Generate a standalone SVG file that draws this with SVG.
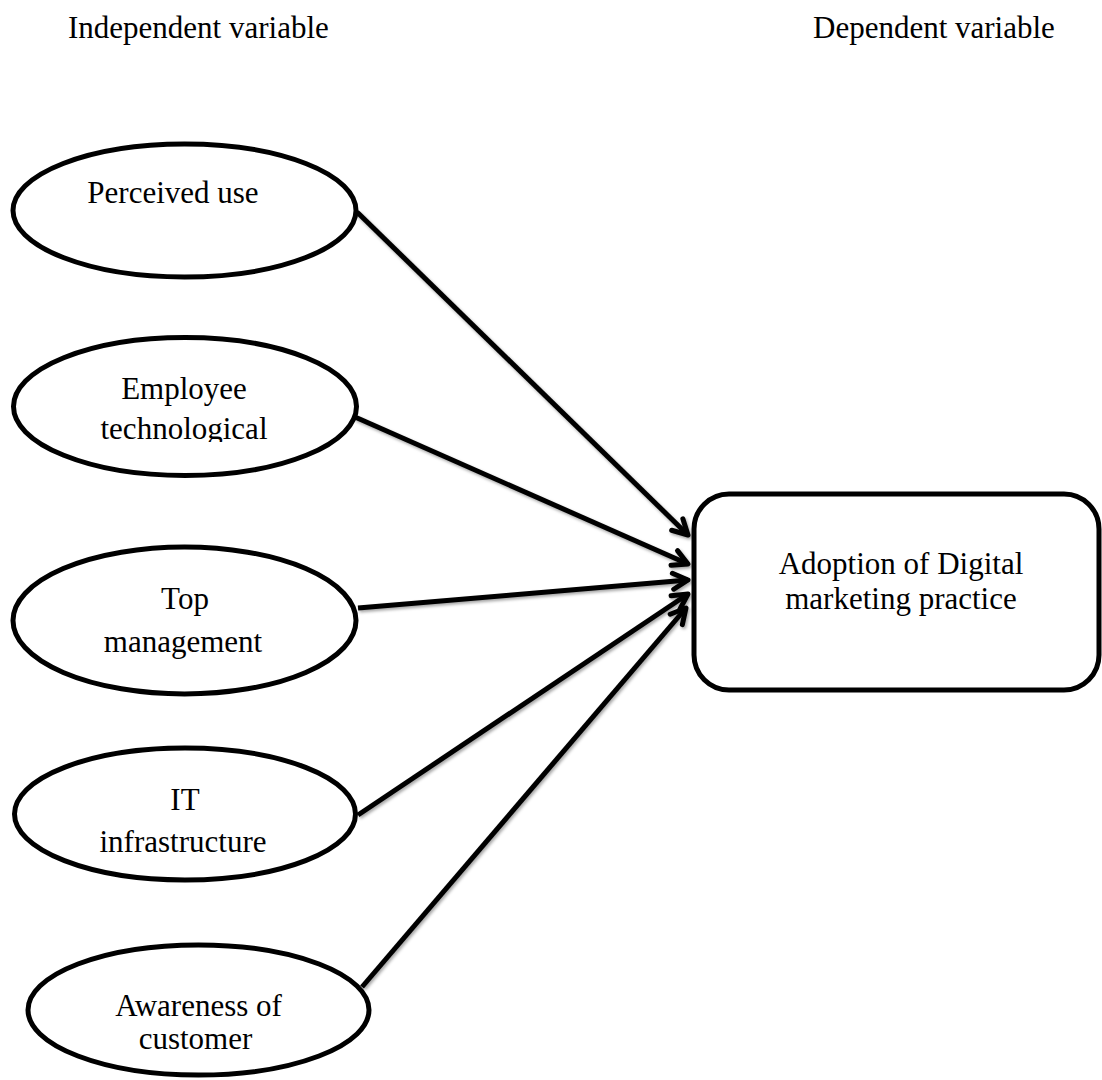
<svg xmlns="http://www.w3.org/2000/svg" width="1102" height="1080" viewBox="0 0 1102 1080">
  <style>
    .node { fill: #ffffff; stroke: #000000; stroke-width: 5; }
    .label { font-family: "Liberation Serif", "Times New Roman", serif; font-size: 31px; fill: #000000; text-anchor: middle; }
    .head { font-family: "Liberation Serif", "Times New Roman", serif; font-size: 31px; fill: #000000; }
    .edge { fill: none; stroke: #000000; stroke-width: 5; }
  </style>
  <defs>
    <marker id="arrow" markerUnits="userSpaceOnUse" markerWidth="24" markerHeight="24" viewBox="0 0 24 24" refX="19" refY="12" orient="auto" overflow="visible">
      <path d="M4,4 L19,12 L4,20" fill="none" stroke="#000000" stroke-width="5" stroke-linecap="round" stroke-linejoin="round"/>
    </marker>
    <filter id="shadow" x="-10%" y="-10%" width="120%" height="120%">
      <feDropShadow dx="1.5" dy="2" stdDeviation="1.5" flood-color="#000000" flood-opacity="0.35"/>
    </filter>
    <clipPath id="clipTech">
      <rect x="0" y="300" width="380" height="142"/>
    </clipPath>
  </defs>
  <rect x="0" y="0" width="1102" height="1080" fill="#ffffff"/>

  <g id="headers">
    <text class="head" x="68" y="38">Independent variable</text>
    <text class="head" x="813" y="38">Dependent variable</text>
  </g>

  <g id="connectors" filter="url(#shadow)">
    <line class="edge" x1="357" y1="212" x2="688" y2="535" marker-end="url(#arrow)"/>
    <line class="edge" x1="355" y1="417" x2="688" y2="564" marker-end="url(#arrow)"/>
    <line class="edge" x1="358" y1="608" x2="688" y2="580" marker-end="url(#arrow)"/>
    <line class="edge" x1="358" y1="815" x2="688" y2="594" marker-end="url(#arrow)"/>
    <line class="edge" x1="362" y1="987" x2="686" y2="608" marker-end="url(#arrow)"/>
  </g>

  <g id="node-perceived-use">
    <ellipse class="node" cx="184.5" cy="210.5" rx="171.5" ry="66.5"/>
    <text class="label" x="173" y="203">Perceived use</text>
  </g>

  <g id="node-employee-technological">
    <ellipse class="node" cx="185" cy="406.5" rx="171.5" ry="69"/>
    <text class="label" x="184" y="399">Employee</text>
    <text class="label" x="184" y="439" clip-path="url(#clipTech)">technological</text>
  </g>

  <g id="node-top-management">
    <ellipse class="node" cx="184.5" cy="620.5" rx="171.5" ry="73.5"/>
    <text class="label" x="185" y="609">Top</text>
    <text class="label" x="183" y="652">management</text>
  </g>

  <g id="node-it-infrastructure">
    <ellipse class="node" cx="185" cy="814" rx="170.5" ry="66"/>
    <text class="label" x="185" y="810">IT</text>
    <text class="label" x="183" y="852">infrastructure</text>
  </g>

  <g id="node-awareness-of-customer">
    <ellipse class="node" cx="198.5" cy="1010" rx="170.5" ry="65"/>
    <text class="label" x="198.5" y="1016">Awareness of</text>
    <text class="label" x="195.5" y="1049">customer</text>
  </g>

  <g id="node-adoption">
    <rect class="node" x="694" y="494" width="405" height="196" rx="35" ry="35"/>
    <text class="label" x="901" y="574">Adoption of Digital</text>
    <text class="label" x="901" y="609">marketing practice</text>
  </g>
</svg>
